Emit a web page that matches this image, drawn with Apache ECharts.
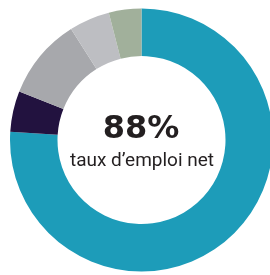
<!DOCTYPE html>
<html><head><meta charset="utf-8">
<script src="https://cdn.jsdelivr.net/npm/echarts@6/dist/echarts.min.js"></script>
<style>html,body{margin:0;padding:0;background:#fff}#c{width:270px;height:275px}</style>
</head><body><div id="c"></div>
<script>
const categories = ['A', 'B', 'C', 'D', 'E'];
const values = [76, 5, 10, 5, 4];
const colors = ['#1d9cb9', '#22123f', '#a7a8ac', '#bdbec2', '#a1b09b'];
const mainLabel = '88%';
const subLabel = 'taux d\u2019emploi net';

const chart = echarts.init(document.getElementById('c'), null, {renderer: 'canvas'});
chart.setOption({
  animation: false,
  series: [{
    type: 'pie',
    center: [141.5, 140],
    radius: [84, 131.5],
    startAngle: 90,
    clockwise: true,
    label: {show: false},
    labelLine: {show: false},
    emphasis: {disabled: true},
    itemStyle: {borderWidth: 0},
    data: categories.map((c, i) => ({name: c, value: values[i], itemStyle: {color: colors[i]}}))
  }],
  graphic: [
    {type: 'text', x: 141, y: 146, style: {text: mainLabel, font: 'bold 32px "DejaVu Sans"', fill: '#231f20', align: 'center', verticalAlign: 'bottom'}},
    {type: 'text', x: 142, y: 171, style: {text: subLabel, font: '19px Roboto', fill: '#231f20', align: 'center', verticalAlign: 'bottom'}}
  ]
});
</script></body></html>
